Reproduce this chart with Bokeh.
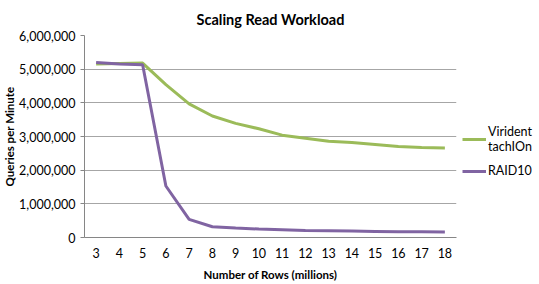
from bokeh.plotting import figure
from bokeh.models import Range1d, NumeralTickFormatter, FixedTicker, Legend, LegendItem
from bokeh.embed import file_html
from bokeh.resources import INLINE

rows_millions = [3, 4, 5, 6, 7, 8, 9, 10, 11, 12, 13, 14, 15, 16, 17, 18]
virident = [5150000, 5170000, 5180000, 4540000, 3970000, 3610000, 3390000, 3230000,
            3040000, 2950000, 2860000, 2820000, 2760000, 2700000, 2670000, 2660000]
raid10 = [5200000, 5150000, 5130000, 1530000, 540000, 320000, 280000, 250000,
          230000, 210000, 200000, 190000, 180000, 170000, 170000, 160000]
y_ticks = [0, 1000000, 2000000, 3000000, 4000000, 5000000, 6000000]

FONT = "Lato"
GREEN = "#9BBB59"
PURPLE = "#8064A2"

p = figure(frame_width=372, frame_height=202, output_backend="svg", toolbar_location=None,
           x_range=Range1d(2.5, 18.5), y_range=Range1d(0, 6000000),
           min_border_left=80, min_border_right=76, min_border_top=0, min_border_bottom=0)

p.title.text = "Scaling Read Workload"
p.title.align = "center"
p.title.text_font = FONT
p.title.text_font_size = "14.5px"
p.title.text_font_style = "bold"
p.title.text_color = "#000000"
p.title.standoff = 16

p.outline_line_color = None
p.background_fill_color = "white"

g = p.line(rows_millions, virident, line_color=GREEN, line_width=3)
r = p.line(rows_millions, raid10, line_color=PURPLE, line_width=3)

p.xgrid.grid_line_color = None
p.ygrid.grid_line_color = "#A6A6A6"
p.ygrid.grid_line_width = 1
p.ygrid.ticker = FixedTicker(ticks=y_ticks)

p.yaxis.ticker = FixedTicker(ticks=y_ticks)
p.yaxis.formatter = NumeralTickFormatter(format="0,0")
p.yaxis.axis_label = "Queries per Minute"
p.yaxis.major_tick_out = 4
p.yaxis.major_tick_in = 0
p.yaxis.minor_tick_line_color = None
p.yaxis.major_label_standoff = 5
p.yaxis.axis_label_standoff = 0

p.xaxis.ticker = FixedTicker(ticks=rows_millions)
p.xaxis.axis_label = "Number of Rows (millions)"
p.xaxis.major_tick_out = 0
p.xaxis.major_tick_in = 0
p.xaxis.minor_tick_line_color = None
p.xaxis.major_label_standoff = 10
p.xaxis.axis_label_standoff = 7

for ax in (p.xaxis, p.yaxis):
    ax.axis_line_color = "#868686"
    ax.major_tick_line_color = "#868686"
    ax.major_label_text_font = FONT
    ax.major_label_text_font_size = "12.5px"
    ax.major_label_text_color = "#000000"
    ax.axis_label_text_font = FONT
    ax.axis_label_text_font_size = "11.5px"
    ax.axis_label_text_font_style = "bold"
    ax.axis_label_text_color = "#000000"

legend = Legend(items=[LegendItem(label="Virident\ntachIOn", renderers=[g]),
                       LegendItem(label="RAID10", renderers=[r])],
                location=(6, 59), orientation="vertical",
                label_text_font=FONT, label_text_font_size="12.5px",
                label_text_color="#000000", label_text_line_height=1.1,
                glyph_width=24, glyph_height=14, label_height=14, label_standoff=2,
                spacing=9, padding=0, margin=0,
                border_line_color=None, background_fill_alpha=0)
p.add_layout(legend, "right")

open("out.html", "w").write(file_html(p, INLINE))
